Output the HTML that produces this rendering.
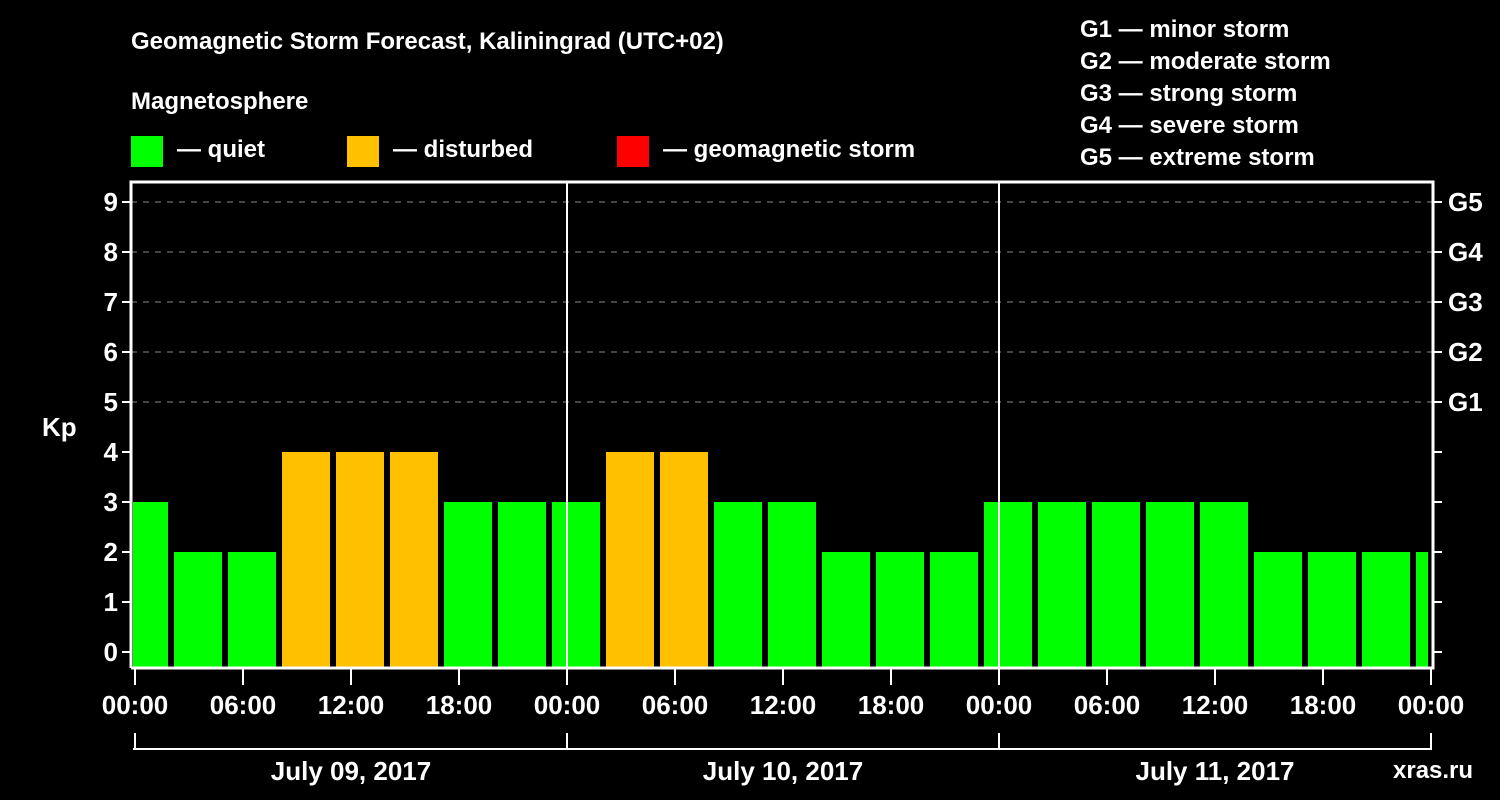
<!DOCTYPE html>
<html><head><meta charset="utf-8"><style>
body{margin:0;background:#000;}
svg{display:block;font-family:"Liberation Sans",Arial,sans-serif;font-weight:bold;}
</style></head><body>
<svg id="c" width="1500" height="800">
<rect width="1500" height="800" fill="#000"/>
<text x="131" y="49" fill="#fff" font-size="24">Geomagnetic Storm Forecast, Kaliningrad (UTC+02)</text>
<text x="131" y="109" fill="#fff" font-size="24">Magnetosphere</text>
<g><rect x="131" y="136" width="32" height="31" fill="#00ff00"/><text x="177" y="157" fill="#fff" font-size="24">— quiet</text></g>
<g><rect x="347" y="136" width="32" height="31" fill="#ffc000"/><text x="393" y="157" fill="#fff" font-size="24">— disturbed</text></g>
<g><rect x="617" y="136" width="32" height="31" fill="#ff0000"/><text x="663" y="157" fill="#fff" font-size="24">— geomagnetic storm</text></g>
<g fill="#fff" font-size="24">
<text x="1080" y="37">G1 — minor storm</text><text x="1080" y="69">G2 — moderate storm</text><text x="1080" y="101">G3 — strong storm</text><text x="1080" y="133">G4 — severe storm</text><text x="1080" y="165">G5 — extreme storm</text></g>
<text x="42" y="436" fill="#fff" font-size="26">Kp</text>
<text x="1393" y="778" fill="#fff" font-size="24">xras.ru</text>
<g id="plot"></g>
</svg>
<script>
const values=[3,2,2,4,4,4,3,3,3,4,4,3,3,2,2,2,3,3,3,3,3,2,2,2,2];
const yTicks=[0,1,2,3,4,5,6,7,8,9];
const gLabels=["G1","G2","G3","G4","G5"];
const timeLabels=["00:00","06:00","12:00","18:00"];
const days=["July 09, 2017","July 10, 2017","July 11, 2017"];
const NS="http://www.w3.org/2000/svg";
const g=document.getElementById('plot');
const X0=135,PX_H=18,L=131,R=1433,T=182,B=668;
const x=h=>X0+h*PX_H;
const y=v=>652-v*50;
function el(t,a,p){const e=document.createElementNS(NS,t);for(const k in a)e.setAttribute(k,a[k]);(p||g).appendChild(e);return e;}
// grid
yTicks.forEach(v=>{if(v>=5){const e=el('line',{x1:L,x2:R,y1:y(v),y2:y(v),stroke:'#888','stroke-dasharray':'6,6','stroke-width':1});

}});
// bars
values.forEach((v,i)=>{const c=x(0.5+3*i);let a=c-24,b=c+24;a=Math.max(a,L+2);b=Math.min(b,R-5);
const r=el('rect',{x:a,y:y(v),width:b-a,height:B-y(v),fill:v>=5?'#ff0000':v>=4?'#ffc000':'#00ff00'});

});
// day separators
[1,2].forEach(d=>{const e=el('line',{x1:x(24*d),x2:x(24*d),y1:T,y2:B,stroke:'#fff','stroke-width':2});

});
// frame
const f=el('path',{d:`M${L} ${B}V${T}H${R}V${B}H${L}`,fill:'none',stroke:'#fff','stroke-width':3});


// y ticks
yTicks.forEach(v=>{el('line',{x1:L-9,x2:L,y1:y(v),y2:y(v),stroke:'#fff','stroke-width':2});
el('line',{x1:R,x2:R+9,y1:y(v),y2:y(v),stroke:'#fff','stroke-width':2});
const t=el('text',{x:L-13,y:y(v)+9,fill:'#fff','font-size':26,'text-anchor':'end'});t.textContent=v;

});
gLabels.forEach((s,i)=>{const t=el('text',{x:1448,y:y(5+i)+9,fill:'#fff','font-size':26});t.textContent=s;

});
// x ticks
for(let h=0;h<=72;h+=6){const xx=Math.min(Math.max(x(h),L),R-2);
el('line',{x1:xx,x2:xx,y1:B,y2:B+17,stroke:'#fff','stroke-width':2});
const t=el('text',{x:xx,y:714,fill:'#fff','font-size':26,'text-anchor':'middle'});t.textContent=timeLabels[(h/6)%4];

}
// day bracket
el('line',{x1:L+2,x2:R-2,y1:749,y2:749,stroke:'#fff','stroke-width':2});
for(let d=0;d<=3;d++){const xx=Math.min(Math.max(x(24*d),L+2),R-2);el('line',{x1:xx,x2:xx,y1:733,y2:750,stroke:'#fff','stroke-width':2});}
days.forEach((s,d)=>{const t=el('text',{x:x(24*d+12),y:780,fill:'#fff','font-size':26,'text-anchor':'middle'});t.textContent=s;

});
</script>
</body></html>
